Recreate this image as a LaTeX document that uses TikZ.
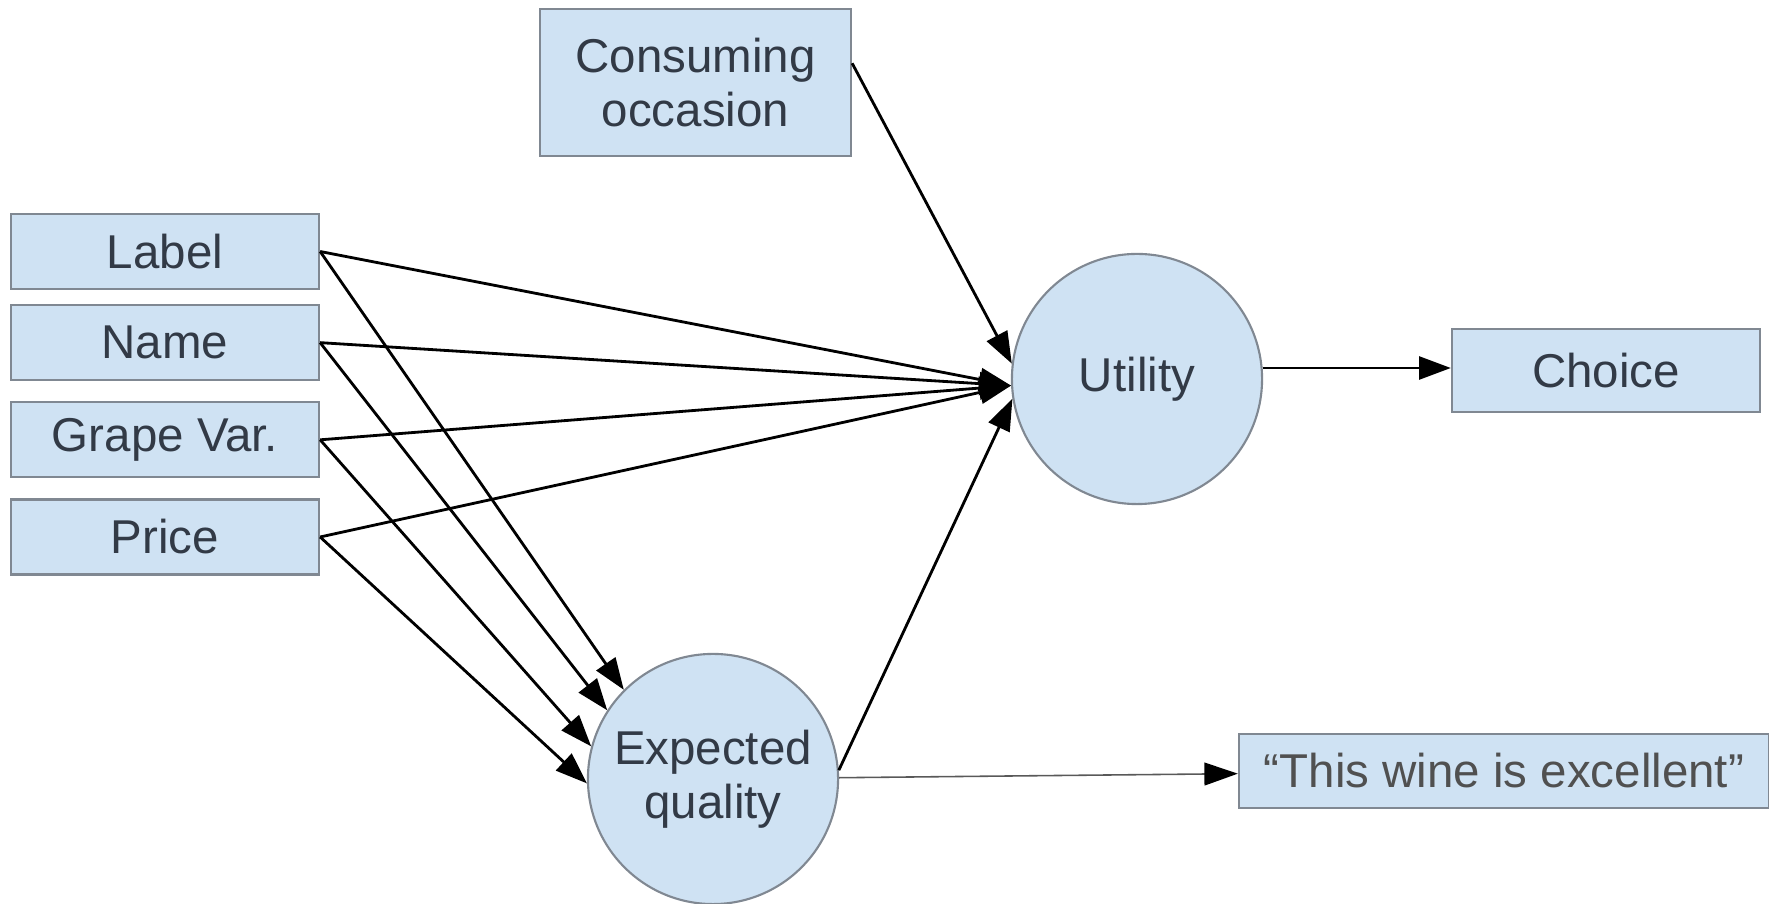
\documentclass[tikz,border=0pt]{standalone}
\usepackage{fontspec}
\setmainfont{Liberation Sans}
\usepackage{xcolor}
\definecolor{boxfill}{RGB}{207,226,243}
\definecolor{boxframe}{RGB}{128,136,146}
\definecolor{boxtext}{RGB}{50,58,70}
\definecolor{quotetext}{RGB}{80,80,80}
\usepackage{tikz}
\usetikzlibrary{arrows.meta,positioning}
\tikzset{
  wn_box/.style={rectangle,
    draw=boxframe,fill=boxfill,line width=0.6pt,
    text=boxtext,align=center,
    font=\fontsize{13.5}{15.5}\selectfont,
    inner sep=2pt,minimum width=3.08cm,minimum height=0.75cm},
  wn_circ/.style={circle,
    draw=boxframe,fill=boxfill,line width=0.6pt,
    text=boxtext,align=center,
    font=\fontsize{13.5}{15.5}\selectfont,
    inner sep=0pt,minimum size=2.5cm},
  arr/.style={-{Triangle[length=9pt,width=6.5pt]},line width=0.8pt,draw=black},
  thin_arr/.style={-{Triangle[length=9.5pt,width=6.5pt,black]},line width=0.45pt,draw=black!65},
}

\begin{document}
\begin{tikzpicture}[x=0.01cm,y=-0.01cm,node distance=0.2cm]

  \useasboundingbox (0,0) rectangle (1769,904);

  % attributes of the bottle
  \node (label) [wn_box] at (165,251.5) {Label};
  \node (name)  [wn_box, below=0.14cm of label] {Name};
  \node (grape) [wn_box, below=of name]  {Grape Var.};
  \node (price) [wn_box, below=of grape] {Price};

  \node (occ) [wn_box, minimum width=3.11cm, minimum height=1.47cm]
    at (695.5,82.5) {Consuming\\occasion};

  \node (util) [wn_circ] at (1137,379) {Utility};
  \node (eq)   [wn_circ] at (713,779)  {Expected\\quality};

  \node (choice) [wn_box, minimum height=0.83cm] at (1606,370.5) {Choice};
  \node (wine)   [wn_box, text=quotetext, minimum width=5.3cm, minimum height=0.74cm]
    at (1504,771) {“This wine is excellent”};

  % into utility
  \draw[arr] (occ.7)      -- (util.173);
  \draw[arr] (label.east) -- (util.183);
  \draw[arr] (name.east)  -- (util.183);
  \draw[arr] (grape.east) -- (util.183);
  \draw[arr] (price.east) -- (util.183);
  \draw[arr] (eq.4)       -- (util.189);

  % into expected quality
  \draw[arr] (label.east) -- (eq.135);
  \draw[arr] (name.east)  -- (eq.147);
  \draw[arr] (grape.east) -- (eq.165);
  \draw[arr] (price.east) -- (eq.182);

  \draw[arr] (util.5) -- (util.5 -| choice.west);
  \draw[thin_arr] (eq) -- (wine);

\end{tikzpicture}
\end{document}
